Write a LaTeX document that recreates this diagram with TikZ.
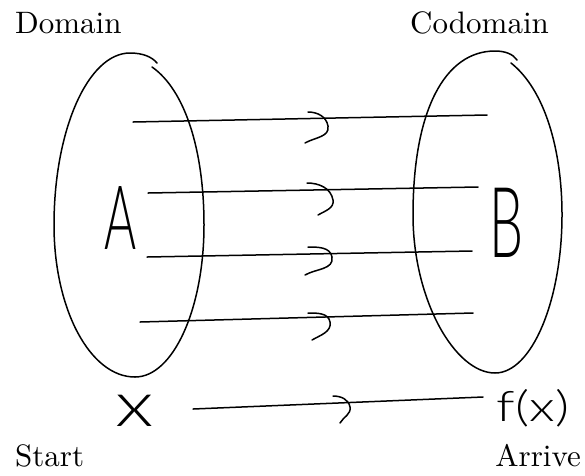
\documentclass[tikz,border=0pt]{standalone}
\usepackage{fontspec}
\setmainfont{lmroman10-regular}[Extension=.otf]
\newfontfamily\hand{Lato Light}
\begin{document}
\begin{tikzpicture}[x=1pt,y=-1pt,
  pen/.style={line width=1.5pt, line cap=round, line join=round},
  lbl/.style={font=\fontsize{31}{36}\selectfont, inner sep=0pt, anchor=base west},
  hw/.style={inner sep=0pt}]
\useasboundingbox (0,0) rectangle (585,475);
% labels
\node[lbl] (dom) at (15,33) {Domain};
\node[lbl] (cod) at (410,33) {Codomain};
\node[lbl] (start) at (15,466) {Start};
\node[lbl, anchor=base east] (arr) at (581,466) {Arrive};
% sets
\draw[pen] (152,67) .. controls (185,90) and (204,150) .. (204,225)
  .. controls (204,309) and (173,377) .. (135,377)
  .. controls (90,377) and (54,309) .. (54,225)
  .. controls (54,130) and (88,53) .. (130,53)
  .. controls (143,53) and (152,57) .. (157,63);
\draw[pen] (511,63) .. controls (545,90) and (562,150) .. (562,215)
  .. controls (562,300) and (532,373) .. (495,373)
  .. controls (455,373) and (413,300) .. (413,215)
  .. controls (413,110) and (445,51) .. (495,51)
  .. controls (505,51) and (513,54) .. (517,60);
% handwritten letters
\node[hw] (A) at (121,218) {\hand\fontsize{89}{89}\selectfont\scalebox{0.55}[1]{A}};
\node[hw] (B) at (507,223) {\hand\fontsize{98}{98}\selectfont\scalebox{0.55}[1]{B}};
\node[hw] (x) at (135,411) {\hand\fontsize{63}{63}\selectfont\scalebox{1.3}[1]{x}};
\node[hw] (fx) at (533,408) {\hand\fontsize{42}{42}\selectfont\scalebox{1.3}[1]{f(x)}};
% mapping lines
\coordinate (a1) at (133,122); \coordinate (b1) at (487,115);
\coordinate (a2) at (148,193); \coordinate (b2) at (478,187);
\coordinate (a3) at (147,257); \coordinate (b3) at (472,251);
\coordinate (a4) at (140,322); \coordinate (b4) at (473,313);
\coordinate (a5) at (193,409); \coordinate (b5) at (483,397);
\draw[pen] (a1) -- (b1);
\draw[pen] (a2) -- (b2);
\draw[pen] (a3) -- (b3);
\draw[pen] (a4) -- (b4);
\draw[pen] (a5) -- (b5);
% arrow hooks
\draw[pen] (308,112) to[out=0,in=100] (328,126) to[out=-80,in=30] (305,143);
\draw[pen] (307,183) to[out=0,in=100] (333,200) to[out=-80,in=30] (318,215);
\draw[pen] (308,247) to[out=0,in=100] (332,257) to[out=-80,in=30] (305,275);
\draw[pen] (308,313) to[out=0,in=100] (330,322) to[out=-80,in=30] (312,340);
\draw[pen] (333,396) to[out=0,in=100] (350,407) to[out=-80,in=60] (340,423);
\end{tikzpicture}
\end{document}
